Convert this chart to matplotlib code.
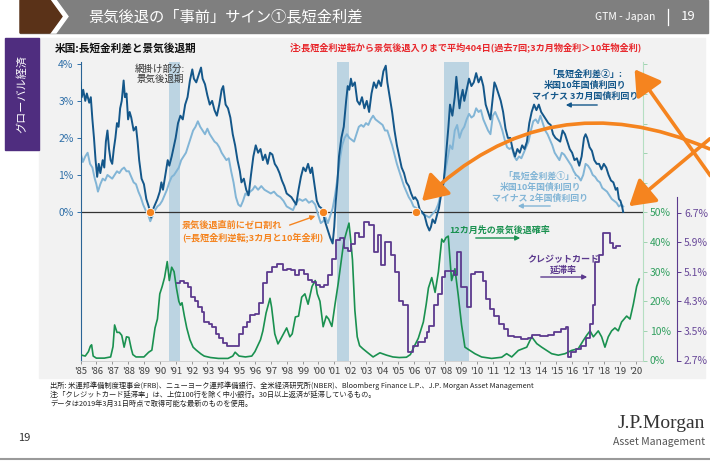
import matplotlib
matplotlib.use("Agg")
import matplotlib.pyplot as plt
from matplotlib.patches import Rectangle, Polygon, FancyArrowPatch

plt.rcParams['font.family'] = ['Noto Sans CJK JP', 'DejaVu Sans']

# ---- data ----
# US 10y minus 3m treasury spread (%)
t3m = [1985.0, 1985.08, 1985.17, 1985.3, 1985.4, 1985.55, 1985.65, 1985.75, 1985.85, 1985.95,
       1986.05, 1986.15, 1986.25, 1986.4, 1986.5, 1986.6, 1986.7, 1986.8, 1986.9, 1987.0,
       1987.1, 1987.2, 1987.3, 1987.4, 1987.5, 1987.6, 1987.72, 1987.8, 1987.9, 1988.0,
       1988.1, 1988.2, 1988.35, 1988.5, 1988.6, 1988.7, 1988.85, 1989.0, 1989.15, 1989.3,
       1989.45, 1989.55, 1989.7, 1989.85, 1990.0, 1990.1, 1990.2, 1990.35, 1990.5, 1990.6,
       1990.75, 1990.9, 1991.0, 1991.15, 1991.3, 1991.45, 1991.6, 1991.75, 1991.9, 1992.05,
       1992.15, 1992.3, 1992.45, 1992.6, 1992.7, 1992.85, 1993.0, 1993.15, 1993.3, 1993.45,
       1993.6, 1993.75, 1993.9, 1994.0, 1994.15, 1994.3, 1994.45, 1994.6, 1994.75, 1994.9,
       1995.05, 1995.15, 1995.3, 1995.45, 1995.6, 1995.75, 1995.9, 1996.05, 1996.2, 1996.35,
       1996.5, 1996.65, 1996.8, 1996.95, 1997.1, 1997.25, 1997.4, 1997.55, 1997.7, 1997.85,
       1998.0, 1998.15, 1998.3, 1998.45, 1998.6, 1998.75, 1998.9, 1999.05, 1999.2, 1999.35,
       1999.5, 1999.6, 1999.75, 1999.9, 2000.05, 2000.2, 2000.3, 2000.45, 2000.6, 2000.75,
       2000.9, 2001.0, 2001.1, 2001.2, 2001.3, 2001.45, 2001.6, 2001.75, 2001.85, 2001.95,
       2002.05, 2002.15, 2002.3, 2002.45, 2002.6, 2002.75, 2002.9, 2003.05, 2003.2, 2003.35,
       2003.5, 2003.65, 2003.8, 2003.95, 2004.1, 2004.25, 2004.35, 2004.5, 2004.65, 2004.8,
       2004.95, 2005.1, 2005.25, 2005.4, 2005.55, 2005.7, 2005.85, 2006.0, 2006.1, 2006.25,
       2006.4, 2006.55, 2006.7, 2006.85, 2007.0, 2007.1, 2007.2, 2007.35, 2007.5, 2007.6,
       2007.75, 2007.9, 2008.0, 2008.1, 2008.2, 2008.3, 2008.45, 2008.6, 2008.7, 2008.8,
       2008.9, 2009.0, 2009.1, 2009.2, 2009.35, 2009.5, 2009.65, 2009.8, 2009.95, 2010.1,
       2010.25, 2010.4, 2010.55, 2010.7, 2010.85, 2010.95, 2011.1, 2011.2, 2011.35, 2011.5,
       2011.65, 2011.8, 2011.95, 2012.1, 2012.25, 2012.4, 2012.55, 2012.7, 2012.85, 2013.0,
       2013.15, 2013.3, 2013.45, 2013.6, 2013.75, 2013.9, 2014.05, 2014.2, 2014.35, 2014.5,
       2014.65, 2014.8, 2014.95, 2015.1, 2015.25, 2015.4, 2015.55, 2015.7, 2015.85, 2016.0,
       2016.15, 2016.3, 2016.45, 2016.6, 2016.75, 2016.85, 2016.95, 2017.1, 2017.25, 2017.4,
       2017.55, 2017.7, 2017.85, 2018.0, 2018.15, 2018.3, 2018.45, 2018.6, 2018.75, 2018.85,
       2018.95, 2019.05, 2019.15, 2019.22]
s3m = [3.5, 3.1, 3.3, 3.0, 3.2, 2.95, 3.1, 2.5, 2.0, 1.4,
       0.95, 1.3, 1.05, 1.4, 1.2, 1.9, 2.2, 1.7, 1.4, 1.3,
       1.7, 2.0, 2.4, 2.3, 2.8, 3.0, 3.55, 3.1, 3.2, 2.5,
       2.7, 2.55, 2.2, 2.3, 1.9, 1.4, 0.9, 0.75, 0.35, 0.15,
       -0.15, 0.05, 0.2, 0.35, 0.55, 0.8, 0.6, 1.0, 1.4, 1.25,
       1.5, 1.8, 2.0, 2.4, 2.6, 2.5, 2.9, 3.1, 3.55, 3.85,
       3.6, 3.5, 3.7, 3.9, 3.6, 3.45, 3.15, 2.9, 3.0, 2.75,
       2.6, 2.9, 3.3, 3.4, 2.9, 2.8, 2.55, 2.1, 1.8, 1.4,
       1.1, 0.8, 0.9, 0.6, 0.45, 1.0, 1.5, 1.8, 1.6, 1.7,
       1.4, 1.55, 1.3, 1.6, 1.55, 1.3, 1.2, 1.05, 0.85, 0.7,
       0.5, 0.45, 0.4, 0.3, 0.2, 0.6, 0.95, 1.2, 1.1, 1.3,
       1.05, 1.2, 0.75, 0.3, 0.15, 0.1, -0.05, -0.3, -0.5, -0.7,
       -0.85, -0.4, 0.3, 0.8, 1.5, 2.0, 2.3, 3.0, 3.4, 3.3,
       3.6, 3.4, 3.5, 3.0, 2.9, 3.1, 2.8, 3.0, 2.7, 3.2,
       3.5, 3.35, 3.55, 3.4, 3.8, 3.95, 3.5, 3.1, 2.7, 2.2,
       1.8, 1.5, 1.2, 1.05, 0.8, 0.7, 0.5, 0.35, 0.4, 0.3,
       0.05, 0.0, -0.1, -0.35, -0.5, -0.4, -0.2, -0.3, -0.05, 0.1,
       0.5, 0.8, 1.3, 1.8, 2.3, 2.9, 2.6, 3.1, 3.65, 3.2,
       2.8, 3.1, 3.3, 3.0, 3.3, 3.6, 3.4, 3.5, 3.75, 3.5,
       3.65, 3.4, 2.9, 2.7, 2.5, 2.9, 3.5, 3.4, 3.2, 3.0,
       2.7, 2.25, 2.0, 2.0, 1.7, 1.5, 1.7, 1.6, 1.8, 1.7,
       1.9, 2.4, 2.7, 2.9, 2.75, 2.9, 2.7, 2.6, 2.5, 2.4,
       2.35, 2.1, 2.0, 1.95, 1.9, 2.2, 2.1, 1.9, 1.7, 1.6,
       1.4, 1.45, 1.25, 1.5, 2.0, 2.1, 2.0, 1.75, 1.65, 1.4,
       1.3, 1.3, 1.15, 1.3, 1.2, 1.0, 0.85, 0.8, 0.6, 0.65,
       0.35, 0.3, 0.15, 0.0]

# US 10y minus 2y treasury spread (%)
t2y = [1985.0, 1985.15, 1985.3, 1985.45, 1985.6, 1985.75, 1985.9, 1986.0, 1986.1, 1986.25,
       1986.4, 1986.55, 1986.7, 1986.85, 1987.0, 1987.15, 1987.3, 1987.45, 1987.6, 1987.75,
       1987.9, 1988.05, 1988.2, 1988.35, 1988.5, 1988.65, 1988.8, 1988.95, 1989.1, 1989.25,
       1989.4, 1989.55, 1989.7, 1989.85, 1990.0, 1990.15, 1990.3, 1990.45, 1990.6, 1990.75,
       1990.9, 1991.05, 1991.2, 1991.35, 1991.5, 1991.65, 1991.8, 1991.95, 1992.1, 1992.25,
       1992.4, 1992.55, 1992.7, 1992.85, 1993.0, 1993.15, 1993.3, 1993.45, 1993.6, 1993.75,
       1993.9, 1994.05, 1994.2, 1994.35, 1994.5, 1994.65, 1994.8, 1994.95, 1995.1, 1995.25,
       1995.4, 1995.55, 1995.7, 1995.85, 1996.0, 1996.2, 1996.4, 1996.6, 1996.8, 1997.0,
       1997.2, 1997.4, 1997.6, 1997.8, 1998.0, 1998.2, 1998.4, 1998.6, 1998.8, 1999.0,
       1999.2, 1999.4, 1999.6, 1999.8, 2000.0, 2000.15, 2000.3, 2000.45, 2000.6, 2000.75,
       2000.9, 2001.05, 2001.2, 2001.35, 2001.5, 2001.65, 2001.8, 2001.95, 2002.1, 2002.25,
       2002.4, 2002.55, 2002.7, 2002.85, 2003.0, 2003.15, 2003.3, 2003.45, 2003.6, 2003.75,
       2003.9, 2004.05, 2004.2, 2004.35, 2004.5, 2004.65, 2004.8, 2004.95, 2005.1, 2005.25,
       2005.4, 2005.55, 2005.7, 2005.85, 2006.0, 2006.2, 2006.4, 2006.6, 2006.8, 2007.0,
       2007.2, 2007.4, 2007.55, 2007.7, 2007.85, 2008.0, 2008.15, 2008.3, 2008.45, 2008.6,
       2008.75, 2008.9, 2009.05, 2009.2, 2009.35, 2009.5, 2009.65, 2009.8, 2009.95, 2010.1,
       2010.25, 2010.4, 2010.55, 2010.7, 2010.85, 2011.0, 2011.15, 2011.3, 2011.45, 2011.6,
       2011.75, 2011.9, 2012.05, 2012.2, 2012.35, 2012.5, 2012.65, 2012.8, 2012.95, 2013.1,
       2013.25, 2013.4, 2013.55, 2013.7, 2013.85, 2014.0, 2014.15, 2014.3, 2014.45, 2014.6,
       2014.75, 2014.9, 2015.05, 2015.2, 2015.35, 2015.5, 2015.65, 2015.8, 2015.95, 2016.1,
       2016.25, 2016.4, 2016.55, 2016.7, 2016.85, 2017.0, 2017.15, 2017.3, 2017.45, 2017.6,
       2017.75, 2017.9, 2018.05, 2018.2, 2018.35, 2018.5, 2018.65, 2018.8, 2018.95, 2019.1,
       2019.22]
s2y = [1.6, 1.35, 1.5, 1.6, 1.3, 1.2, 0.9, 0.75, 0.55, 0.75,
       0.9, 0.85, 1.0, 0.95, 0.9, 1.0, 1.1, 1.05, 1.15, 1.2,
       1.1, 1.1, 0.95, 0.8, 0.75, 0.55, 0.4, 0.2, 0.05, -0.05,
       -0.25, -0.1, 0.05, 0.15, 0.2, 0.3, 0.45, 0.6, 0.8, 0.95,
       1.0, 1.1, 1.2, 1.4, 1.5, 1.6, 1.8, 2.0, 2.2, 2.3,
       2.45, 2.3, 2.2, 2.1, 2.25, 2.1, 2.0, 1.9, 1.85, 1.75,
       1.6, 1.5, 1.4, 1.45, 1.1, 0.8, 0.4, 0.2, 0.15, 0.3,
       0.5, 0.45, 0.55, 0.6, 0.7, 0.6, 0.7, 0.6, 0.55, 0.5,
       0.55, 0.45, 0.4, 0.3, 0.15, 0.1, 0.05, 0.25, 0.35, 0.3,
       0.35, 0.25, 0.3, 0.2, -0.1, -0.3, -0.25, -0.15, -0.3, -0.1,
       0.1, 0.45, 0.9, 1.4, 1.8, 2.0, 2.1, 2.0, 1.95, 1.9,
       2.1, 2.3, 2.35, 2.3, 2.4, 2.35, 2.5, 2.6, 2.5, 2.45,
       2.4, 2.35, 2.2, 2.2, 2.0, 1.8, 1.55, 1.3, 1.1, 0.9,
       0.7, 0.55, 0.4, 0.3, 0.15, 0.1, 0.0, -0.05, -0.1, -0.15,
       -0.05, 0.05, 0.2, 0.45, 0.75, 1.1, 1.45, 1.8, 1.7, 2.2,
       2.35, 2.0, 2.2, 2.3, 2.5, 2.65, 2.55, 2.6, 2.8, 2.7,
       2.75, 2.5, 2.35, 2.2, 2.1, 2.6, 2.7, 2.55, 2.4, 2.2,
       1.95, 1.75, 1.7, 1.75, 1.5, 1.4, 1.5, 1.45, 1.6, 1.75,
       1.9, 2.2, 2.45, 2.5, 2.4, 2.6, 2.4, 2.2, 2.1, 1.95,
       1.8, 1.6, 1.5, 1.4, 1.6, 1.55, 1.45, 1.35, 1.25, 1.1,
       1.0, 0.95, 0.85, 1.0, 1.3, 1.25, 1.15, 1.0, 0.95, 0.85,
       0.8, 0.65, 0.6, 0.55, 0.45, 0.35, 0.3, 0.25, 0.15, 0.2,
       0.15]

# probability of recession 12 months ahead (%)
t_prob = [1985.0, 1985.3, 1985.5, 1985.62, 1985.7, 1985.8, 1986.0, 1986.5, 1986.9, 1987.05,
          1987.15, 1987.3, 1987.45, 1987.6, 1987.75, 1987.9, 1988.05, 1988.2, 1988.3, 1988.5,
          1989.0, 1989.3, 1989.5, 1989.7, 1989.85, 1990.0, 1990.15, 1990.3, 1990.47, 1990.6,
          1990.75, 1990.9, 1991.05, 1991.2, 1991.3, 1991.4, 1991.55, 1991.7, 1991.9, 1992.1,
          1992.3, 1992.6, 1992.8, 1993.2, 1993.7, 1994.3, 1994.6, 1994.75, 1995.0, 1995.4,
          1995.8, 1996.0, 1996.15, 1996.35, 1996.5, 1996.7, 1996.85, 1996.95, 1997.05, 1997.25,
          1997.45, 1997.6, 1997.8, 1998.0, 1998.2, 1998.35, 1998.55, 1998.75, 1998.95, 1999.15,
          1999.35, 1999.6, 1999.8, 1999.93, 2000.1, 2000.3, 2000.5, 2000.65, 2000.85, 2001.05,
          2001.25, 2001.45, 2001.6, 2001.75, 2001.93, 2002.05, 2002.15, 2002.3, 2002.45, 2002.6,
          2002.8, 2003.05, 2003.45, 2003.88, 2004.3, 2004.7, 2005.1, 2005.55, 2005.8, 2006.0,
          2006.3, 2006.62, 2006.8, 2006.94, 2007.15, 2007.36, 2007.57, 2007.7, 2007.78, 2007.9,
          2008.05, 2008.19, 2008.4, 2008.61, 2008.82, 2009.03, 2009.24, 2009.56, 2009.87, 2010.29,
          2010.92, 2011.56, 2011.87, 2012.19, 2012.61, 2013.14, 2013.45, 2013.77, 2014.08, 2014.4,
          2014.71, 2015.13, 2015.55, 2015.97, 2016.39, 2016.71, 2016.92, 2017.13, 2017.34, 2017.65,
          2017.86, 2018.07, 2018.28, 2018.49, 2018.7, 2018.91, 2019.12, 2019.44, 2019.65, 2019.86,
          2020.07, 2020.23]
prob = [1.9, 1.5, 3.0, 4.8, 5.3, 1.5, 0.8, 0.8, 1.2, 4.7,
        12, 9.5, 9.5, 8.5, 4.5, 8, 7.8, 4, 2, 1.2,
        1.2, 2.8, 3.5, 11, 14, 22.5, 25, 28, 33.4, 27,
        31.5, 30, 24.5, 20, 18.7, 19.5, 15, 11, 7, 4.5,
        3.5, 2.2, 1.5, 1.0, 0.7, 0.7, 1.5, 2.8, 1.5, 1.2,
        1.5, 3, 4.7, 7, 10, 16, 19, 21, 18, 9,
        5.6, 7, 9, 11, 8, 9, 14.7, 15, 21.4, 22.5,
        19, 25, 27, 22.5, 20, 11.4, 15, 14, 11.5, 19,
        26, 34, 40, 43, 46.4, 40, 34, 17, 8, 5,
        4, 2.9, 1.2, 2.6, 1.8, 1.2, 1.0, 1.1, 2.0, 4.3,
        7.5, 13, 19, 24.5, 28, 23, 30, 37, 41, 40,
        41.5, 42, 27, 31, 22, 12, 4.5, 3.4, 2.3, 1.2,
        0.7, 1.1, 2.3, 1.2, 3.4, 4.5, 8, 5.7, 4.5, 3.4,
        2.3, 1.8, 2.3, 3.4, 4, 6.8, 8.5, 10, 8, 10,
        8, 4.5, 8, 10, 11, 10, 13, 15, 14, 19,
        25, 27.5]

# credit card delinquency rate, small banks (%), quarterly steps
t_cc = [1991.07, 1991.3, 1991.55, 1991.8, 1991.95, 1992.2, 1992.4, 1992.65, 1992.8, 1993.1,
        1993.3, 1993.55, 1993.75, 1994.0, 1994.25, 1995.0, 1995.25, 1995.5, 1995.7, 1996.0,
        1996.25, 1996.5, 1996.75, 1997.1, 1997.4, 1997.75, 1998.05, 1998.3, 1998.55, 1998.8,
        1999.1, 1999.35, 1999.6, 1999.85, 2000.1, 2000.35, 2000.6, 2000.85, 2001.1, 2001.35,
        2001.6, 2001.85, 2002.05, 2002.3, 2002.55, 2002.85, 2003.2, 2003.5, 2003.75, 2003.95,
        2004.2, 2004.55, 2004.85, 2005.1, 2005.35, 2005.67, 2005.95, 2006.3, 2006.7, 2006.85,
        2007.0, 2007.3, 2007.55, 2007.8, 2008.0, 2008.55, 2008.75, 2009.0, 2009.4, 2009.6,
        2009.9, 2010.35, 2010.6, 2010.85, 2011.1, 2011.4, 2011.7, 2011.95, 2012.35, 2012.8,
        2013.2, 2013.5, 2014.0, 2014.45, 2014.85, 2015.3, 2015.6, 2015.75, 2015.95, 2016.25,
        2016.55, 2016.9, 2017.1, 2017.3, 2017.45, 2017.7, 2017.95, 2018.4, 2018.6, 2018.75,
        2019.05]
cc = [4.8, 4.85, 4.8, 4.7, 4.42, 4.3, 4.15, 4.0, 3.75, 3.7,
      3.6, 3.42, 3.3, 3.16, 3.1, 3.42, 3.6, 3.75, 3.93, 3.95,
      4.25, 4.8, 5.1, 5.24, 5.3, 5.15, 5.18, 5.15, 5.0, 5.15,
      5.05, 4.87, 4.83, 4.75, 4.7, 4.75, 5.0, 5.45, 5.96, 6.0,
      5.75, 5.66, 5.84, 6.14, 6.05, 6.45, 6.36, 5.64, 6.1, 5.28,
      5.9, 5.56, 5.1, 4.3, 4.2, 2.94, 3.1, 3.2, 3.3, 3.46,
      3.64, 4.2, 4.5, 4.96, 5.12, 5.0, 5.64, 4.7, 4.15, 5.05,
      5.1, 4.85, 4.36, 4.1, 3.9, 3.7, 3.55, 3.37, 3.33, 3.28,
      3.3, 3.4, 3.35, 3.4, 3.46, 3.55, 3.6, 2.8, 2.94, 3.0,
      3.08, 3.3, 3.7, 4.2, 5.37, 5.55, 6.14, 5.88, 5.75, 5.8,
      5.8]

recessions = [(1990.56, 1991.25), (2001.17, 2001.9), (2007.95, 2009.5)]
zero_breaks = [1989.4, 2000.27, 2006.15]
years = list(range(1985, 2021))
pct_ticks = [0, 1, 2, 3, 4]
prob_ticks = [0, 10, 20, 30, 40, 50]
cc_ticks = [2.7, 3.5, 4.3, 5.1, 5.9, 6.7]

DARK = "#14578a"
LIGHT = "#82b5d6"
GREEN = "#1a9150"
PURPLE = "#5c3a8e"
ORANGE = "#f5841f"
SHADE = "#bcd4e2"

W, H = 710, 462


def px(x, y):
    return x / W, 1 - y / H


fig = plt.figure(figsize=(W / 100, H / 100), dpi=100)
tf = fig.transFigure

# ---- page furniture ----
fig.add_artist(Rectangle(px(20, 33), 688 / W, 33 / H, transform=tf, color="#7f7f7f", zorder=-2))
fig.add_artist(Polygon([px(56, 0), px(68, 16.5), px(56, 33), px(50, 33), px(62, 16.5), px(50, 0)],
                       transform=tf, color="white", zorder=-1))
fig.add_artist(Polygon([px(20, 0), px(50, 0), px(62, 16.5), px(50, 33), px(20, 33)],
                       transform=tf, color="#5a3218", zorder=-1))
fig.text(*px(88, 17), "景気後退の「事前」サイン①長短金利差", color="white", fontsize=11,
         va="center", ha="left")
fig.text(*px(655, 17), "GTM - Japan", color="white", fontsize=7.5, va="center", ha="right")
fig.add_artist(plt.Line2D([668 / W, 668 / W], [1 - 9 / H, 1 - 25 / H], transform=tf, color="white", lw=0.9))
fig.text(*px(688, 17), "19", color="white", fontsize=9.5, va="center", ha="center")

fig.add_artist(Rectangle(px(39, 378), 666 / W, 340 / H, transform=tf, color="#f2f2f2", zorder=-2))
fig.add_artist(Rectangle(px(5, 150), 34 / W, 112 / H, transform=tf, color="#4f2d7f", zorder=-1))
fig.text(*px(22, 94), "グローバル経済", color="white", fontsize=8, rotation=90,
         va="center", ha="center")

fig.text(*px(55, 48), "米国:長短金利差と景気後退期", fontsize=7.7, fontweight="bold",
         va="center", ha="left", color="#111111")
fig.text(*px(290, 48), "注:長短金利逆転から景気後退入りまで平均404日(過去7回;3カ月物金利＞10年物金利)",
         fontsize=6.6, fontweight="bold", va="center", ha="left", color="#e8272c")

notes = ["出所: 米連邦準備制度理事会(FRB)、ニューヨーク連邦準備銀行、全米経済研究所(NBER)、Bloomberg Finance L.P.、J.P. Morgan Asset Management",
         "注:「クレジットカード延滞率」は、上位100行を除く中小銀行。30日以上返済が延滞しているもの。",
         "データは2019年3月31日時点で取得可能な最新のものを使用。"]
for i, line in enumerate(notes):
    fig.text(*px(50, 386 + 9 * i), line, fontsize=5.2, va="center", ha="left", color="#222222")

fig.text(*px(18, 438), "19", fontsize=8, va="center", ha="left", color="#333333")
fig.text(*px(705, 424), "J.P.Morgan", fontsize=14, family="Liberation Serif",
         va="center", ha="right", color="#333333")
fig.text(*px(705, 442), "Asset Management", fontsize=7.5, va="center", ha="right", color="#555555")
fig.add_artist(plt.Line2D([0, 1], [1 - 459 / H, 1 - 459 / H], transform=tf, color="#9a9a9a", lw=1.5))

# ---- axes ----
L, R, T, B = 80.5, 643, 62, 360.5
ax = fig.add_axes([L / W, 1 - B / H, (R - L) / W, (B - T) / H])
ax.set_facecolor("none")
for a, b in recessions:
    ax.axvspan(a, b, color=SHADE, lw=0, zorder=0)
ax.axhline(0, color="#333333", lw=0.9, zorder=1)
ax.plot(t2y, s2y, color=LIGHT, lw=1.4, zorder=2)
ax.plot(t3m, s3m, color=DARK, lw=1.4, zorder=3)
ax.plot(zero_breaks, [0] * len(zero_breaks), "o", color=ORANGE, ms=6, mec="white", mew=0.6, zorder=5)
ax.set_xlim(1985, 2020.47)
ax.set_ylim(-4.01, 4.05)
ax.set_yticks(pct_ticks)
ax.set_yticklabels([f"{v}%" for v in pct_ticks])
ax.set_xticks(years)
ax.set_xticklabels([f"'{y % 100:02d}" for y in years])
ax.tick_params(axis="y", colors="#2f6fa8", labelsize=7.5, length=3, width=0.7, pad=2)
ax.tick_params(axis="x", colors="#888888", labelcolor="#404040", labelsize=6.8, length=2.5, width=0.6, pad=2)
ax.spines["left"].set_color("#2a6496")
ax.spines["left"].set_linewidth(0.8)
ax.spines["bottom"].set_color("#cccccc")
ax.spines["bottom"].set_linewidth(0.6)
ax.spines[["top", "right"]].set_visible(False)

ax2 = ax.twinx()
ax2.plot(t_prob, prob, color=GREEN, lw=1.2, zorder=3)
ax2.set_ylim(0, 100.8)
ax2.set_yticks(range(0, 101, 10))
ax2.set_yticklabels([f"{v}%" if v <= 50 else "" for v in range(0, 101, 10)])
ax2.tick_params(axis="y", colors="#9fd3b0", labelcolor="#33a060", labelsize=7.5, length=3, width=0.7, pad=2)
ax2.spines["right"].set_color("#b5dfc2")
ax2.spines["right"].set_linewidth(0.8)
ax2.spines[["top", "left", "bottom"]].set_visible(False)

ax3 = ax.twinx()
ax3.step(t_cc, cc, where="post", color=PURPLE, lw=1.3, zorder=4)
ax3.set_ylim(2.7, 10.77)
ax3.set_yticks(cc_ticks)
ax3.set_yticklabels([f"{v:.1f}%" for v in cc_ticks])
ax3.spines["right"].set_position(("axes", (677 - L) / (R - L)))
ax3.spines["right"].set_bounds(2.7, 7.12)
ax3.spines["right"].set_color(PURPLE)
ax3.spines["right"].set_linewidth(0.8)
ax3.spines[["top", "left", "bottom"]].set_visible(False)
ax3.tick_params(axis="y", colors=PURPLE, labelcolor="#6a4a9a", labelsize=7.5, length=3, width=0.7, pad=2)

# ---- annotations ----
fig.text(*px(160, 74), "網掛け部分:\n景気後退期", fontsize=6.8, ha="center", va="center",
         color="#333333", linespacing=1.15)
fig.text(*px(585, 85), "「長短金利差②」:\n米国10年国債利回り\nマイナス 3カ月国債利回り", fontsize=6.5,
         fontweight="bold", ha="center", va="center", color=DARK, linespacing=1.25)
fig.text(*px(540, 187), "「長短金利差①」:\n米国10年国債利回り\nマイナス 2年国債利回り", fontsize=6.4,
         fontweight="bold", ha="center", va="center", color=LIGHT, linespacing=1.25)
fig.text(*px(500, 230), "12カ月先の景気後退確率", fontsize=6.5, fontweight="bold",
         ha="center", va="center", color=GREEN)
fig.text(*px(563, 265), "クレジットカード\n延滞率", fontsize=6.5, fontweight="bold",
         ha="center", va="center", color=PURPLE, linespacing=1.25)
fig.text(*px(182, 232), "景気後退直前にゼロ割れ\n(=長短金利逆転;3カ月と10年金利)", fontsize=6.6,
         fontweight="bold", ha="left", va="center", color=ORANGE, linespacing=1.3)

small_arrows = [((600, 105), (563, 105), DARK), ((553, 206), (515, 206), LIGHT),
                ((473, 238), (523, 238), GREEN), ((538, 277), (590, 277), PURPLE),
                ((287, 226), (318, 215), ORANGE)]
for p0, p1, c in small_arrows:
    fig.add_artist(FancyArrowPatch(px(*p0), px(*p1), transform=tf, arrowstyle="-|>",
                                   mutation_scale=7, color=c, lw=1.0, zorder=10))

big = dict(transform=tf, arrowstyle="-|>,head_length=0.9,head_width=0.55", mutation_scale=17,
           color=ORANGE, lw=2.6, zorder=10, clip_on=False)
fig.add_artist(FancyArrowPatch(px(712, 150), px(420, 203), connectionstyle="arc3,rad=0.34", **big))
fig.add_artist(FancyArrowPatch(px(712, 178), px(633, 67), **big))
fig.add_artist(FancyArrowPatch(px(712, 137), px(627, 208), **big))

fig.savefig("out.png", dpi=100)
